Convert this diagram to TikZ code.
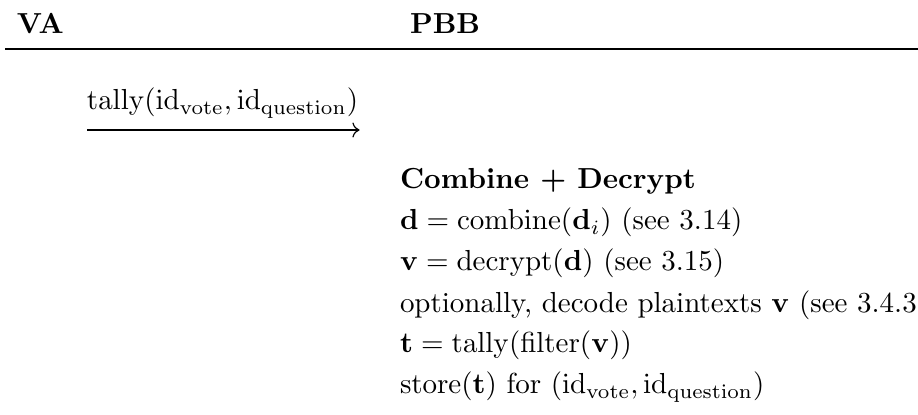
\documentclass[tikz,border=0pt]{standalone}
\usepackage{amsmath}
\usetikzlibrary{arrows.meta}
\begin{document}
\begin{tikzpicture}[x=0.345pt,y=-0.345pt,
  txt/.style={anchor=base west,inner sep=0pt,outer sep=0pt},
  hdr/.style={txt,font=\bfseries},
  rulebar/.style={line width=0.6pt},
  msgarrow/.style={line width=0.4pt,-{Computer Modern Rightarrow}}]
\useasboundingbox (0,0) rectangle (918,415);
% party headers and the separating rule
\node[hdr] (va)  at (17,34)  {VA};
\node[hdr] (pbb) at (410,34) {PBB};
\coordinate (ruleL) at (5,49);
\coordinate (ruleR) at (918,49);
\draw[rulebar] (ruleL) -- (ruleR);
% message from VA to PBB
\node[txt] (msg) at (87,110) {$\mathrm{tally}(\mathrm{id}_{\mathrm{vote}},\mathrm{id}_{\mathrm{question}})$};
\coordinate (msgS) at (87,130);
\coordinate (msgE) at ([xshift=0.5pt]msg.east |- msgS);
\draw[msgarrow] (msgS) -- (msgE);
% computation on the PBB side
\node[hdr] (c0) at (400,189) {Combine + Decrypt};
\node[txt] (c1) at (400,230) {$\mathbf{d}=\mathrm{combine}(\mathbf{d}_i)$ (see 3.14)};
\node[txt] (c2) at (400,271) {$\mathbf{v}=\mathrm{decrypt}(\mathbf{d})$ (see 3.15)};
\node[txt] (c3) at (400,312) {optionally, decode plaintexts $\mathbf{v}$ (see 3.4.3)};
\node[txt] (c4) at (400,353) {$\mathbf{t}=\mathrm{tally}(\mathrm{filter}(\mathbf{v}))$};
\node[txt] (c5) at (400,394) {$\mathrm{store}(\mathbf{t})$ for $(\mathrm{id}_{\mathrm{vote}},\mathrm{id}_{\mathrm{question}})$};
\end{tikzpicture}
\end{document}
